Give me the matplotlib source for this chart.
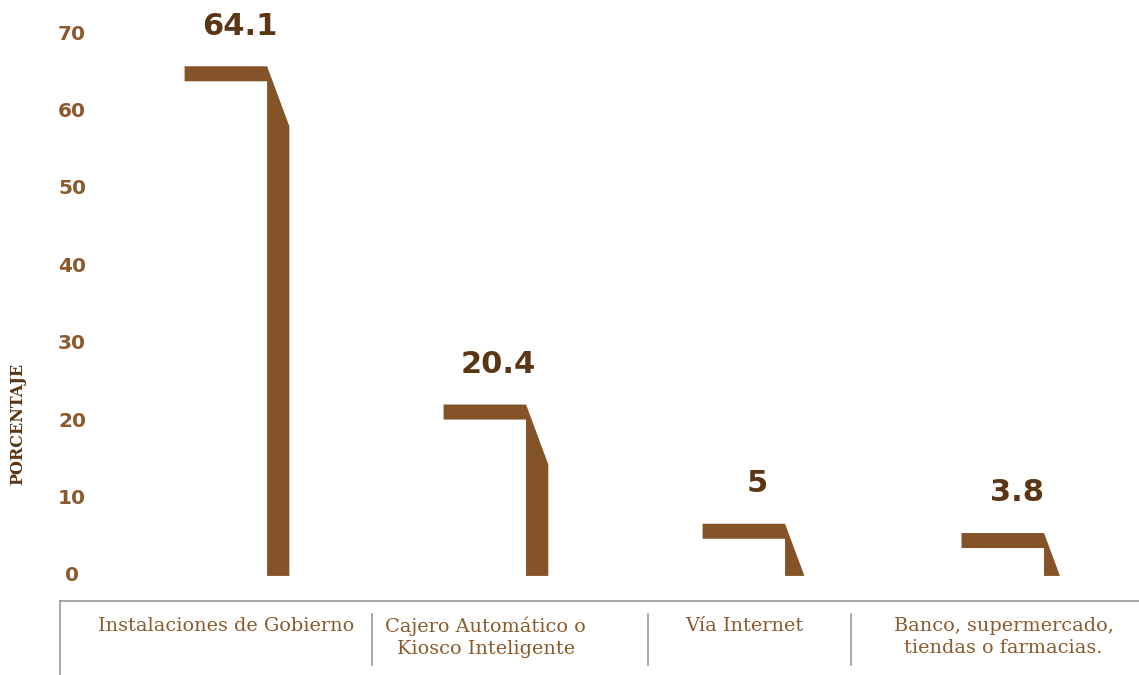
import matplotlib
matplotlib.use("Agg")
import matplotlib.pyplot as plt
from matplotlib.patches import Polygon

# ---- data ----
categories = ["Instalaciones de Gobierno",
              "Cajero Automático o\nKiosco Inteligente",
              "Vía Internet",
              "Banco, supermercado,\ntiendas o farmacias."]
values = [64.1, 20.4, 5, 3.8]
value_labels = ["64.1", "20.4", "5", "3.8"]
yticks = [0, 10, 20, 30, 40, 50, 60, 70]
ylabel = "PORCENTAJE"

# ---- style ----
bar_color = "#845428"
value_color = "#5a3614"
tick_color = "#8a5a2c"
cat_color = "#8a5a2c"
line_color = "#9a9a9a"

fig = plt.figure(figsize=(11.39, 6.75), dpi=100)
ax = fig.add_axes([0, 0, 1, 1])
ax.set_xlim(-0.915, 3.483)
ax.set_ylim(-12.8, 74.4)
ax.axis("off")

w_band = 0.3185
w_vert = 0.086
h_band = 1.94
drop = 7.75
half = (w_band + w_vert) / 2

for i, v in enumerate(values):
    L = i - half
    xc = L + w_band
    xr = xc + w_vert
    bb = v - 0.2
    top = bb + h_band
    if top - drop > 0:
        pts = [(L, bb), (L, top), (xc, top), (xr, top - drop), (xr, 0), (xc, 0), (xc, bb)]
    else:
        xh = xc + w_vert * top / drop
        pts = [(L, bb), (L, top), (xc, top), (xh, 0), (xc, 0), (xc, bb)]
    ax.add_patch(Polygon(pts, closed=True, facecolor=bar_color, edgecolor="none"))
    ax.text(i + 0.01, top + 5.2, value_labels[i], ha="center", va="center",
            fontsize=22, fontweight="bold", color=value_color, family="DejaVu Sans")

for t in yticks:
    ax.text(-0.637, t, str(t), ha="center", va="center", fontsize=14.5,
            fontweight="bold", color=tick_color, family="DejaVu Sans")

ax.text(-0.845, 19.6, ylabel, rotation=90, ha="center", va="center",
        fontsize=11.5, fontweight="bold", color=value_color, family="DejaVu Serif")

# bottom axis decoration
ax.plot([-0.683, 3.483], [-3.23, -3.23], color=line_color, lw=1.2, clip_on=False)
ax.plot([-0.683, -0.683], [-3.23, -12.8], color=line_color, lw=1.2, clip_on=False)
for sx in [0.521, 1.587, 2.371]:
    ax.plot([sx, sx], [-4.9, -11.5], color=line_color, lw=1.2)

for i, c in enumerate(categories):
    ax.text(i - 0.04, -5.25, c, ha="center", va="top", fontsize=13.9,
            color=cat_color, family="DejaVu Serif", linespacing=1.3)

fig.savefig("out.png", dpi=100)
